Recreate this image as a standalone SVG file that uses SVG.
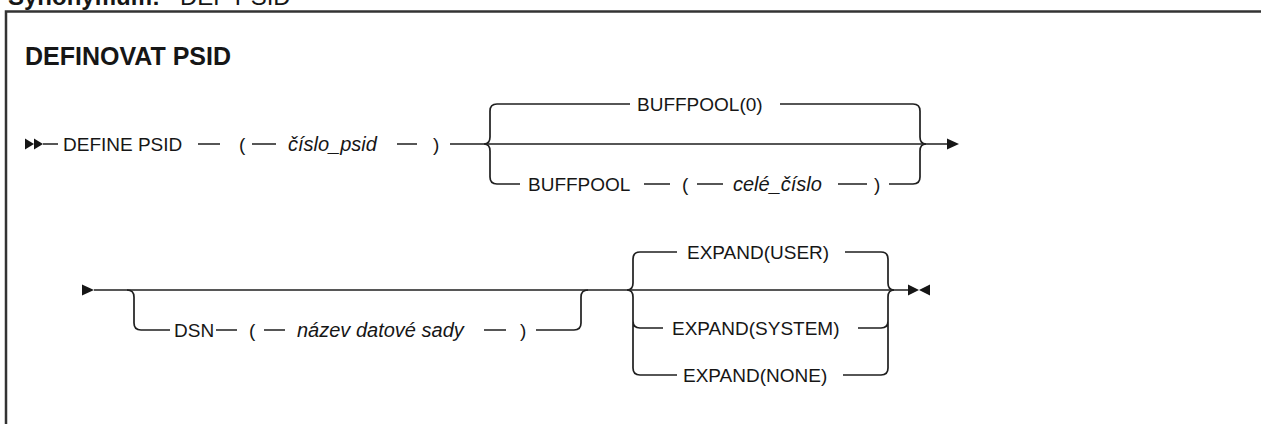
<svg xmlns="http://www.w3.org/2000/svg" width="1261" height="424" viewBox="0 0 1261 424">
<style>
  .t { font-family: "Liberation Sans", Arial, sans-serif; font-size: 19px; fill: #161616; }
  .v { font-family: "Liberation Sans", Arial, sans-serif; font-size: 20px; font-style: italic; fill: #161616; }
  .h { font-family: "Liberation Sans", Arial, sans-serif; font-weight: bold; fill: #161616; }
  .ln { fill: none; stroke: #1f1f1f; stroke-width: 1.7; }
  .ah { fill: #161616; }
</style>
<rect width="1261" height="424" fill="#ffffff"/>
<text class="h" x="8" y="5" font-size="24">Synonymum:<tspan font-weight="normal" x="180">DEF PSID</tspan></text>
<path d="M6,424 V11.5 H1261" fill="none" stroke="#333" stroke-width="2.5"/>
<text id="title" class="h" x="25" y="65" font-size="25">DEFINOVAT PSID</text>

<g id="connectors">
  <!-- line 1 -->
  <polygon class="ah" points="25,138.5 34,144 25,149.5"/>
  <polygon class="ah" points="34,138.5 43,144 34,149.5"/>
  <path class="ln" d="M43,144 H58 M198,144 H220 M252,144 H276 M397,144 H417 M450,144 H948"/>
  <path class="ln" d="M497,104 Q490,104 490,111 V137 Q490,144 484,144 Q490,144 490,151 V177 Q490,184 497,184"/>
  <path class="ln" d="M497,104 H630 M780,104 H913"/>
  <path class="ln" d="M497,184 H520 M644,184 H670 M697,184 H723 M838,184 H867 M889,184 H913"/>
  <path class="ln" d="M913,104 Q920,104 920,111 V137 Q920,144 926,144 Q920,144 920,151 V177 Q920,184 913,184"/>
  <polygon class="ah" points="947,138.5 959,144 947,149.5"/>
  <!-- line 2 -->
  <polygon class="ah" points="82,284.5 94,290 82,295.5"/>
  <path class="ln" d="M94,290 H908"/>
  <path class="ln" d="M127,290 Q134,290 134,297 V323 Q134,330 141,330 H170 M216,330 H237 M264,330 H285 M484,330 H506 M536,330 H574 Q581,330 581,323 V297 Q581,290 588,290"/>
  <path class="ln" d="M640,252 Q633,252 633,259 V283 Q633,290 627,290 Q633,290 633,297 V368 Q633,375 640,375 M633,321 Q633,328 640,328"/>
  <path class="ln" d="M640,252 H677 M845,252 H881 M640,328 H663 M858,328 H881 M640,375 H677 M843,375 H881"/>
  <path class="ln" d="M881,252 Q888,252 888,259 V283 Q888,290 894,290 Q888,290 888,297 V368 Q888,375 881,375 M888,321 Q888,328 881,328"/>
  <polygon class="ah" points="908,284.5 919,290 908,295.5"/>
  <polygon class="ah" points="930,284.5 919,290 930,295.5"/>
</g>

<g id="define-psid"><text class="t" x="63" y="151">DEFINE PSID</text></g>
<g id="lparen1"><text class="t" x="239" y="151">(</text></g>
<g id="cislo-psid"><text class="v" x="288" y="151">číslo_psid</text></g>
<g id="rparen1"><text class="t" x="433" y="151">)</text></g>
<g id="buffpool-0"><text class="t" x="637" y="111">BUFFPOOL(0)</text></g>
<g id="buffpool"><text class="t" x="528" y="191">BUFFPOOL</text></g>
<g id="lparen2"><text class="t" x="682" y="191">(</text></g>
<g id="cele-cislo"><text class="v" x="733" y="191">celé_číslo</text></g>
<g id="rparen2"><text class="t" x="874" y="191">)</text></g>

<g id="dsn"><text class="t" x="174" y="337">DSN</text></g>
<g id="lparen3"><text class="t" x="249" y="337">(</text></g>
<g id="nazev"><text class="v" x="297" y="337">název datové sady</text></g>
<g id="rparen3"><text class="t" x="520" y="337">)</text></g>
<g id="expand-user"><text class="t" x="687" y="259">EXPAND(USER)</text></g>
<g id="expand-system"><text class="t" x="672" y="335">EXPAND(SYSTEM)</text></g>
<g id="expand-none"><text class="t" x="683" y="382">EXPAND(NONE)</text></g>
</svg>
